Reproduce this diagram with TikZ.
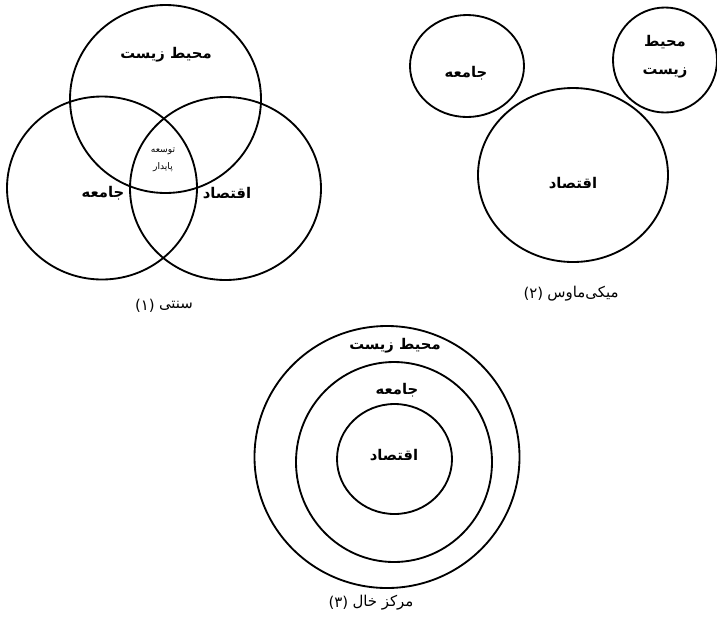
\documentclass[tikz,border=0pt]{standalone}
\usepackage{fontspec}
\newfontfamily\arabicfont[Script=Arabic]{DejaVu Sans}
\TeXXeTstate=1
\usetikzlibrary{positioning}
\newcommand{\fa}[1]{\beginR #1\endR}

\begin{document}
\begin{tikzpicture}[x=0.02cm, y=-0.02cm,
 ring/.style={line width=1.05pt},
 lbl/.style={font=\arabicfont\bfseries\fontsize{8.4}{16}\selectfont, inner sep=1pt, align=center},
 tiny/.style={font=\arabicfont\fontsize{5.2}{9.6}\selectfont, inner sep=0pt, align=center},
 captxt/.style={font=\arabicfont\fontsize{8.5}{10}\selectfont, inner sep=1pt}]
\useasboundingbox (0,0) rectangle (717,630);
% (1) سه دایره
\draw[ring] (165.5,99) ellipse (95.5 and 94);
\draw[ring] (102,188) ellipse (95 and 91.5);
\draw[ring] (225.5,188.5) ellipse (95.5 and 91.5);
\node[lbl] (v-env) at (166,55) {\fa{محیط زیست}};
\node[lbl] (v-soc) at (103,193) {جامعه};
\node[lbl] (v-eco) at (227,193) {اقتصاد};
\node[tiny] (v-sus) at (163,160) {توسعه\\پایدار};
\node[captxt] (cap1) at (176,306) {سنتی};
\node[captxt, left=0pt of cap1] (num1) {(۱)};
% (2) میکی ماوس
\draw[ring] (467,66) ellipse (57 and 51);
\draw[ring] (665,60) ellipse (52 and 52.5);
\draw[ring] (573,175) ellipse (95 and 87);
\node[lbl] (m-soc) at (466,73) {جامعه};
\node[lbl] (m-env) at (665,57) {محیط\\زیست};
\node[lbl] (m-eco) at (573,183) {اقتصاد};
\node[captxt] (cap2) at (583,294) {میکی‌ماوس};
\node[captxt, left=0pt of cap2] (num2) {(۲)};
% (3) دوایر هم مرکز
\draw[ring] (387,457) ellipse (132.5 and 131);
\draw[ring] (394,462) ellipse (98 and 100);
\draw[ring] (394.5,459) ellipse (57.5 and 55);
\node[lbl] (c-env) at (395,346) {\fa{محیط زیست}};
\node[lbl] (c-soc) at (397,390) {جامعه};
\node[lbl] (c-eco) at (394,455) {اقتصاد};
\node[captxt] (cap3) at (383,603) {\fa{مرکز خال}};
\node[captxt, left=0pt of cap3] (num3) {(۳)};
\end{tikzpicture}
\end{document}
